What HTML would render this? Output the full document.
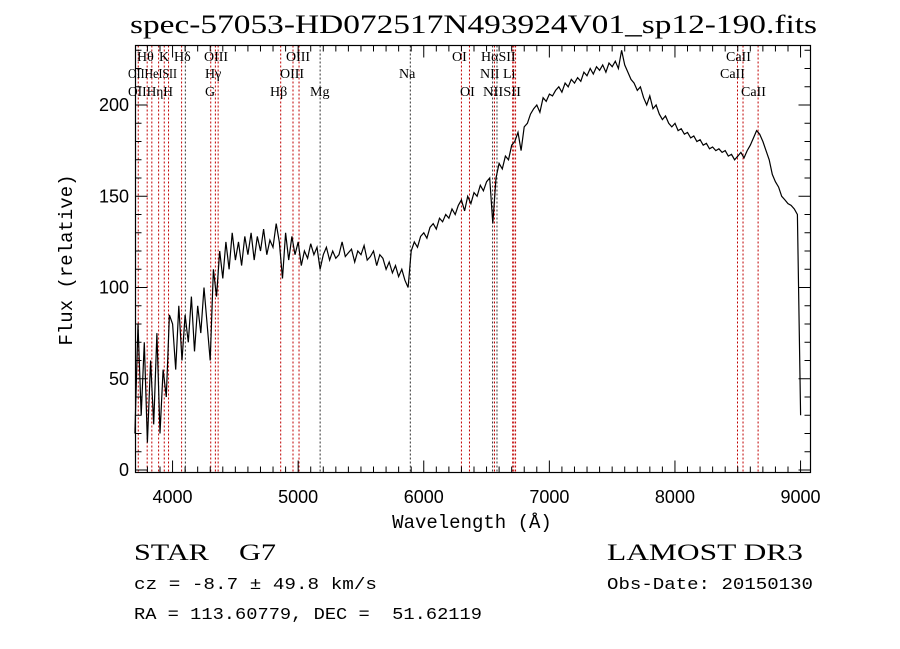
<!DOCTYPE html>
<html><head><meta charset="utf-8"><style>
html,body{margin:0;padding:0;background:#fff;}
svg{display:block;}
</style></head><body>
<svg id="chart" width="900" height="649" xmlns="http://www.w3.org/2000/svg">
<rect width="900" height="649" fill="#fff"/>
<text x="130" y="33" textLength="687" lengthAdjust="spacingAndGlyphs" font-family="Liberation Serif, serif" font-size="26">spec-57053-HD072517N493924V01_sp12-190.fits</text>
<g id="lines"></g>
<g id="ticks"></g>
<path id="spec" fill="none" stroke="#000" stroke-width="1.2"/>
<rect x="135.5" y="45.5" width="675" height="427" fill="none" stroke="#000" stroke-width="1.2"/>
<g font-family="Liberation Serif, DejaVu Serif, serif" font-size="14">
<text x="137" y="61">Hθ</text><text x="159" y="61">K</text><text x="174" y="61">Hδ</text><text x="204" y="61">OIII</text><text x="286" y="61">OIII</text><text x="452" y="61">OI</text><text x="481" y="61">HαSII</text><text x="726" y="61">CaII</text>
<text x="128" y="78" textLength="49" lengthAdjust="spacingAndGlyphs">OIIHeISII</text><text x="205" y="78">Hγ</text><text x="280" y="78">OIII</text><text x="399" y="78">Na</text><text x="480" y="78">NII</text><text x="503" y="78">Li</text><text x="720" y="78">CaII</text>
<text x="128" y="96" textLength="45" lengthAdjust="spacingAndGlyphs">OIIHηH</text><text x="205" y="96">G</text><text x="270" y="96">Hβ</text><text x="310" y="96">Mg</text><text x="460" y="96">OI</text><text x="483" y="96" textLength="38" lengthAdjust="spacingAndGlyphs">NIISII</text><text x="741" y="96">CaII</text>
</g>
<g id="xlabels" font-family="Liberation Sans, sans-serif" font-size="18" text-anchor="middle"></g>
<g id="ylabels" font-family="Liberation Sans, sans-serif" font-size="18" text-anchor="end"></g>
<text x="472" y="528" text-anchor="middle" font-family="Liberation Mono, monospace" font-size="19">Wavelength (Å)</text>
<text transform="translate(72,260) rotate(-90)" text-anchor="middle" font-family="Liberation Mono, monospace" font-size="19">Flux (relative)</text>
<text x="134" y="560" textLength="142" lengthAdjust="spacingAndGlyphs" font-family="Liberation Serif, serif" font-size="23" xml:space="preserve">STAR    G7</text>
<text x="607" y="560" textLength="196" lengthAdjust="spacingAndGlyphs" font-family="Liberation Serif, serif" font-size="23">LAMOST DR3</text>
<text x="134" y="589" textLength="243" lengthAdjust="spacingAndGlyphs" font-family="Liberation Mono, monospace" font-size="17">cz = -8.7 ± 49.8 km/s</text>
<text x="607" y="589" textLength="206" lengthAdjust="spacingAndGlyphs" font-family="Liberation Mono, monospace" font-size="17">Obs-Date: 20150130</text>
<text x="134" y="619" textLength="348" lengthAdjust="spacingAndGlyphs" font-family="Liberation Mono, monospace" font-size="17" xml:space="preserve">RA = 113.60779, DEC =  51.62119</text>
</svg>
<script>
const fluxValues = [
20,80,30,70,15,60,25,75,20,55,40,85,
80,55,90,60,85,70,95,65,90,75,100,80,
60,110,95,120,105,125,110,130,115,125,112,128,
118,130,115,128,120,132,118,126,122,135,125,105,
130,115,128,118,125,112,120,116,124,118,122,110,
118,122,115,120,116,118,125,117,119,121,114,120,
118,123,115,117,120,112,118,116,110,114,108,112,
106,110,104,100,120,125,122,128,
130,127,133,135,132,138,136,140,138,143,140,145,
148,142,150,146,152,150,156,153,158,160,135,160,
168,165,172,170,178,180,185,175,188,190,195,198,
200,196,204,202,206,205,208,210,207,212,210,214,
212,215,213,218,216,220,217,221,219,222,218,223,
221,224,220,230,222,218,214,212,208,210,204,200,
205,198,200,195,192,194,190,188,190,186,187,184,
185,182,183,180,181,178,179,176,177,175,176,174,
175,172,173,170,172,174,171,175,178,182,186,184,
180,175,170,162,158,155,150,148,146,145,143,140,
30];
const waveStart = 3700, waveStep = 25;
const lineWaves = [3727,3798,3835,3889,3934,3968,4072,4102,4304,4341,4363,4861,4959,5007,5175,5893,6300,6364,6548,6563,6583,6708,6717,6731,8498,8542,8662];
const lineColors = ['r','r','r','r','r','r','r','k','r','r','r','r','r','r','k','k','r','r','k','r','k','r','r','r','r','r','r'];
const xTicks = [4000,5000,6000,7000,8000,9000];
const yTicks = [0,50,100,150,200];
const NS='http://www.w3.org/2000/svg';
const X0=135.5,X1=810.5,Y0=472.5,Y1=45.5;
const xs=w=>X0+(w-3705)*125.6/1000;
const ys=f=>470-f*1.825;
let d='';
fluxValues.forEach((f,i)=>{const w=waveStart+i*waveStep;d+=(i?'L':'M')+xs(w).toFixed(1)+','+ys(f).toFixed(1);});
document.getElementById('spec').setAttribute('d',d);
const lg=document.getElementById('lines');
lineWaves.forEach((w,i)=>{const l=document.createElementNS(NS,'line');


const x=xs(w);l.setAttribute('x1',x);l.setAttribute('x2',x);l.setAttribute('y1',Y1);l.setAttribute('y2',Y0);
l.setAttribute('stroke',lineColors[i]==='r'?'#c00000':'#333');l.setAttribute('stroke-width','1');l.setAttribute('stroke-dasharray','2,2');lg.appendChild(l);});
const tg=document.getElementById('ticks');
function tick(x1,y1,x2,y2){const l=document.createElementNS(NS,'line');


l.setAttribute('x1',x1);l.setAttribute('y1',y1);l.setAttribute('x2',x2);l.setAttribute('y2',y2);l.setAttribute('stroke','#000');tg.appendChild(l);}
for(let w=3800;w<=9000;w+=100){const x=xs(w);const L=(w%1000===0)?12:6;tick(x,Y0,x,Y0-L);tick(x,Y1,x,Y1+L);}
for(let f=0;f<=230;f+=10){const y=ys(f);const L=(f%50===0)?12:6;tick(X0,y,X0+L,y);tick(X1,y,X1-L,y);}
const xl=document.getElementById('xlabels');
xTicks.forEach(w=>{const t=document.createElementNS(NS,'text');


t.setAttribute('x',xs(w));t.setAttribute('y',503);t.textContent=w;xl.appendChild(t);});
const yl=document.getElementById('ylabels');
yTicks.forEach(f=>{const t=document.createElementNS(NS,'text');


t.setAttribute('x',129);t.setAttribute('y',ys(f)+6);t.textContent=f;yl.appendChild(t);});
</script>
</body></html>
